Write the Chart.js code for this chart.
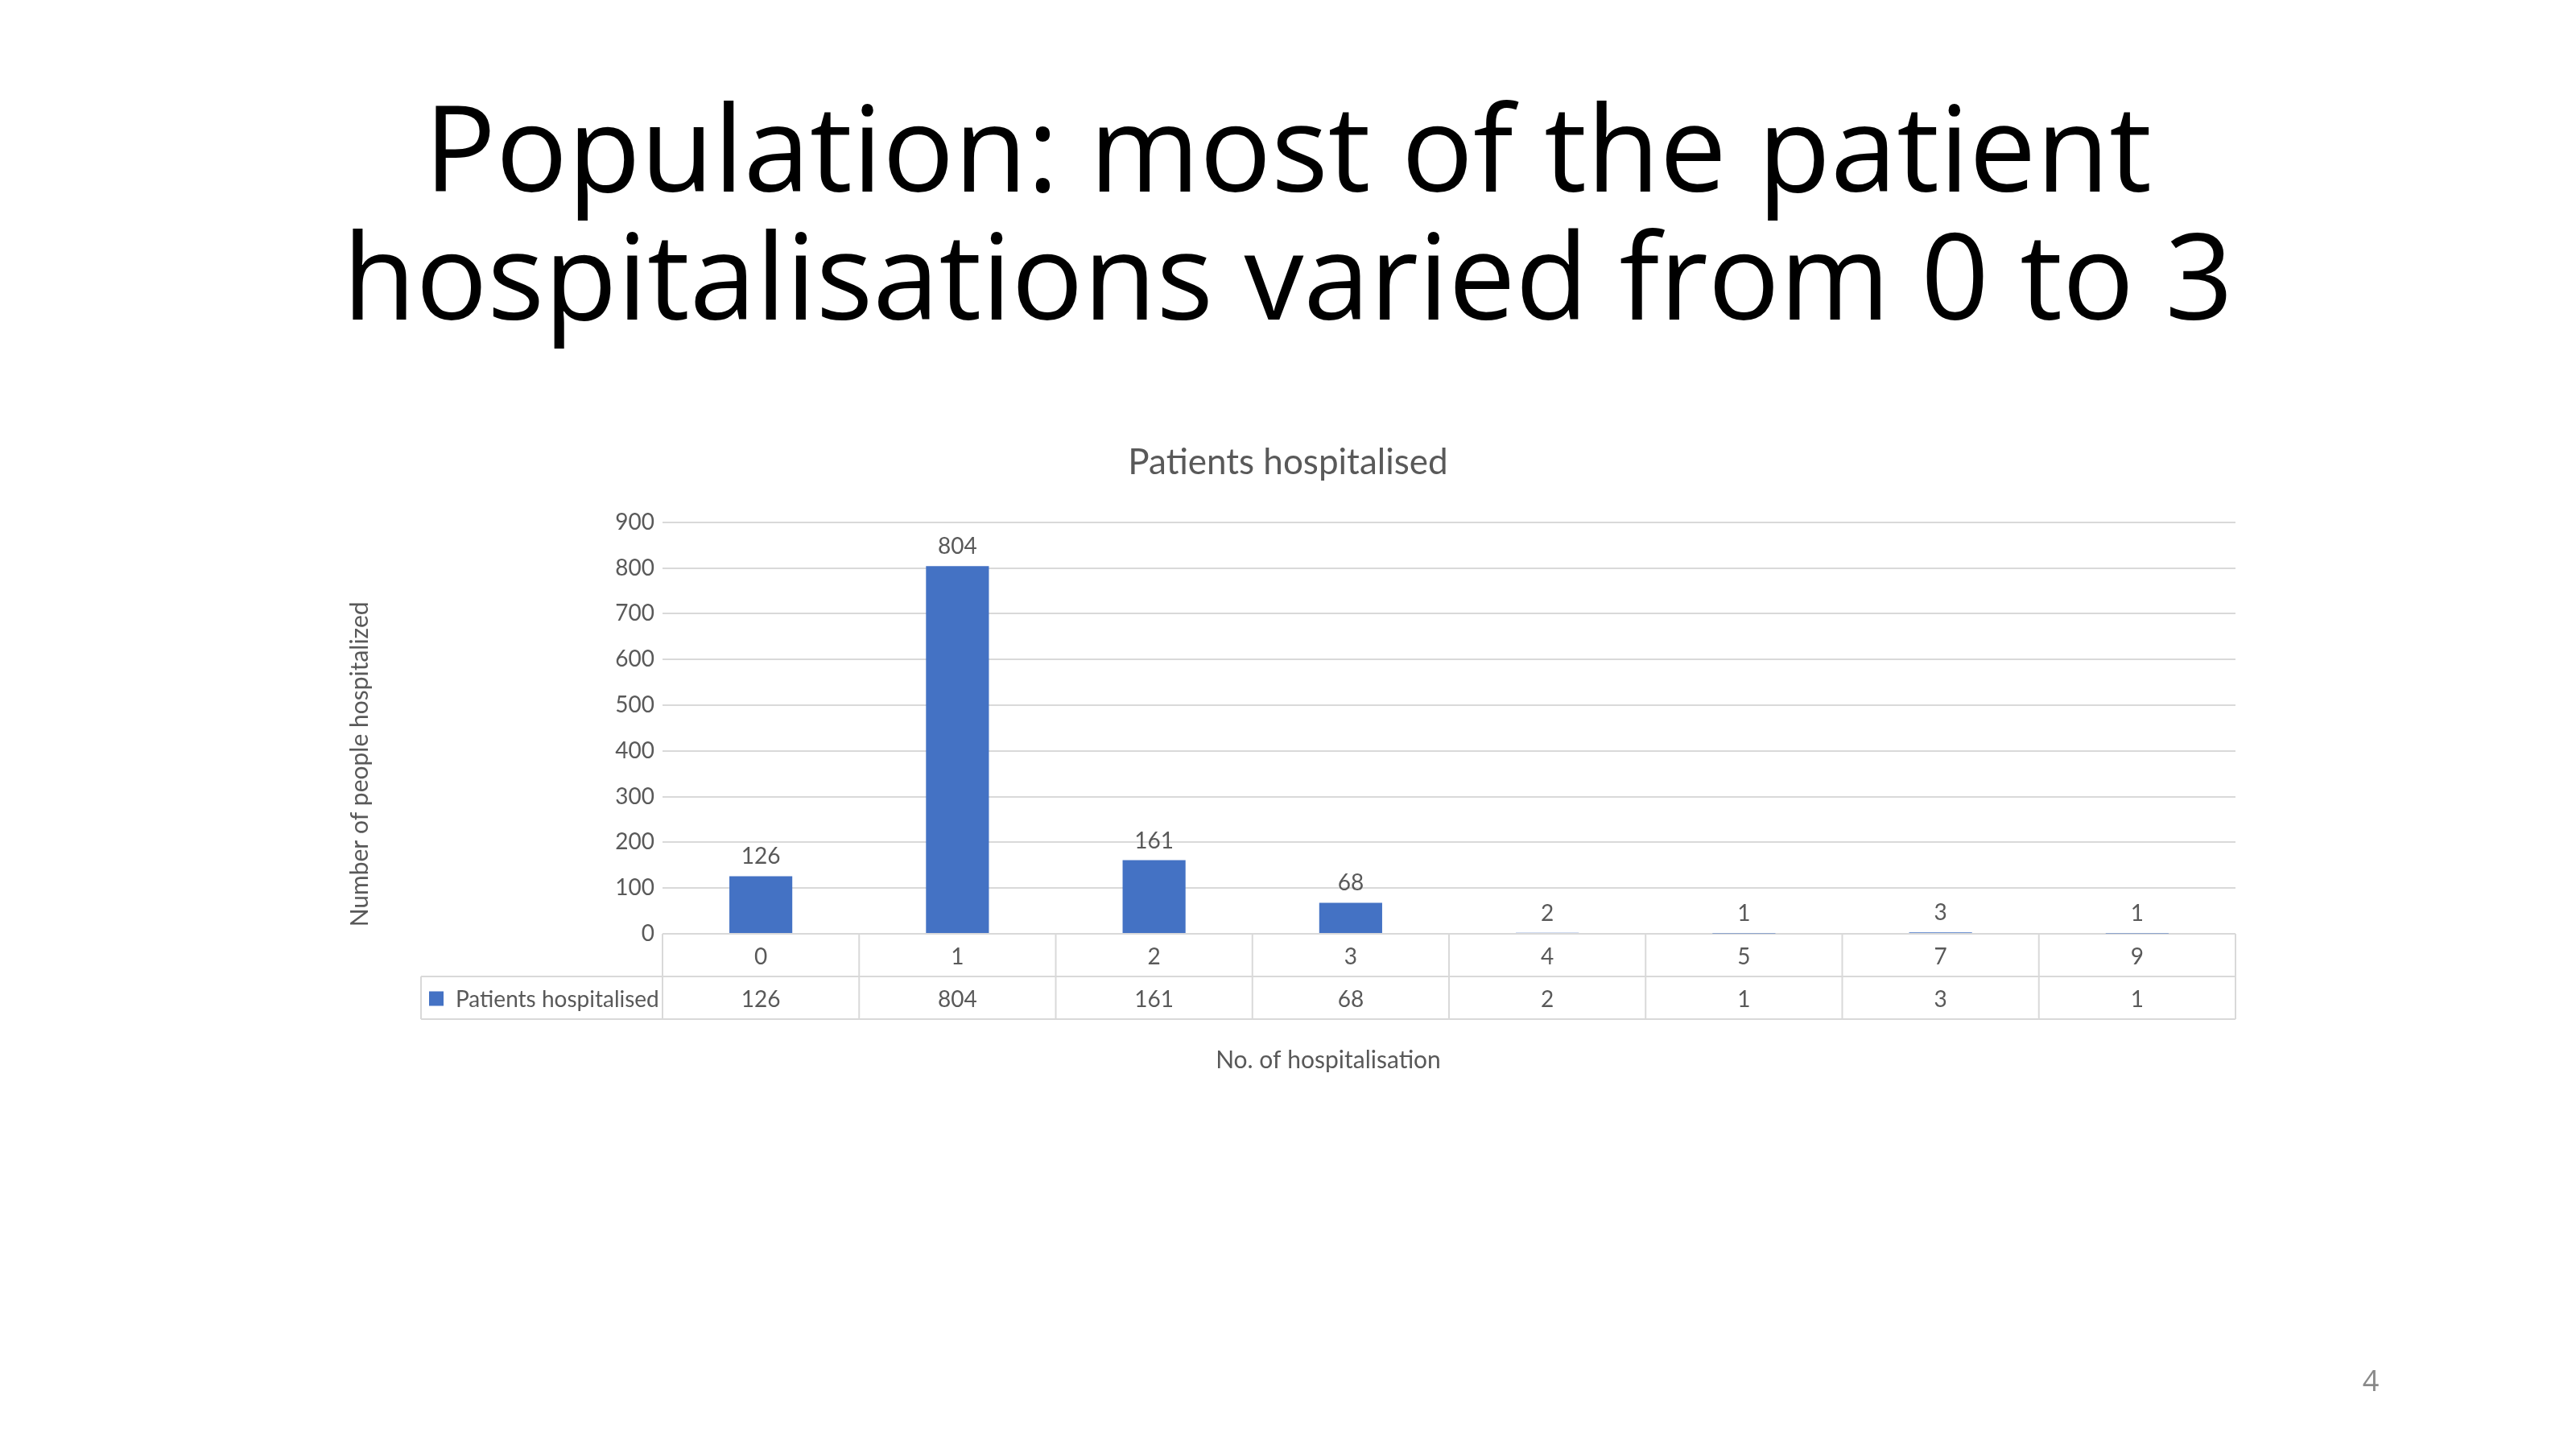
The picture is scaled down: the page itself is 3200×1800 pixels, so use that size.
<!DOCTYPE html>
<html lang="en">
<head>
<meta charset="utf-8">
<title>Population: most of the patient hospitalisations varied from 0 to 3</title>
<script src="https://cdn.jsdelivr.net/npm/chart.js@4.4.0/dist/chart.umd.min.js"></script>
<style>
  html, body { margin: 0; padding: 0; background: #fff; }
  body { width: 3200px; height: 1800px; position: relative; overflow: hidden; }
  #nadpis {
    position: absolute; left: 0; top: 101px; width: 3200px;
    font-family: "Open Sans", sans-serif; font-size: 148px; line-height: 159px;
    text-align: center; color: #000; margin: 0; font-weight: 400;
  }
  #cislo-stranky {
    position: absolute; left: 2920px; top: 1690px; width: 50px;
    font-family: "Open Sans", sans-serif; font-size: 36px; color: #898989; text-align: center;
  }
  #graf { position: absolute; left: 0; top: 0; }
</style>
</head>
<body>
<canvas id="graf" width="3200" height="1800" style="width:3200px;height:1800px"></canvas>
<h1 id="nadpis">Population: most of the patient<br>hospitalisations varied from 0 to 3</h1>
<div id="cislo-stranky">4</div>
<script>
// --- DATA ---
const kategorie = ['0', '1', '2', '3', '4', '5', '7', '9'];
const pocetPacientu = [126, 804, 161, 68, 2, 1, 3, 1];
const nazevRady = 'Patients hospitalised';
const nazevGrafu = 'Patients hospitalised';
const popisekOsyX = 'No. of hospitalisation';
const popisekOsyY = 'Number of people hospitalized';
const osaYMax = 900;
const osaYKrok = 100;

// --- STYLY ---
const barvaSloupce = '#4472C4';
const barvaTextu = '#595959';
const barvaMrizky = '#d9d9d9';
const pismo = 'Lato';

// --- TABULKA DAT, POPISKY A NAZVY OS (vlastni plugin) ---
const tabulkaPlugin = {
  id: 'tabulka',
  afterDatasetsDraw(chart) {
    const { ctx } = chart;
    const meta = chart.getDatasetMeta(0);
    ctx.save();
    ctx.font = `28px ${pismo}`;
    ctx.fillStyle = barvaTextu;
    ctx.textAlign = 'center';
    ctx.textBaseline = 'alphabetic';
    meta.data.forEach((sloupec, i) => {
      ctx.fillText(String(pocetPacientu[i]), sloupec.x, sloupec.y - 15);
    });
    ctx.restore();
  },
  afterDraw(chart) {
    const { ctx, chartArea, scales: { x } } = chart;
    const sirka = x.getPixelForValue(1) - x.getPixelForValue(0);
    const horni = chartArea.bottom;
    const radek = 53;
    const levyOkraj = 523;
    const prava = chartArea.right;

    ctx.save();
    ctx.strokeStyle = barvaMrizky;
    ctx.lineWidth = 2;
    ctx.beginPath();
    // vodorovne cary
    ctx.moveTo(levyOkraj, horni + radek); ctx.lineTo(prava, horni + radek);
    ctx.moveTo(levyOkraj, horni + 2 * radek); ctx.lineTo(prava, horni + 2 * radek);
    // svisle cary mezi sloupci
    kategorie.forEach((k, i) => {
      const xx = x.getPixelForValue(i) - sirka / 2;
      ctx.moveTo(xx, horni); ctx.lineTo(xx, horni + 2 * radek);
    });
    ctx.moveTo(prava, horni); ctx.lineTo(prava, horni + 2 * radek);
    ctx.moveTo(levyOkraj, horni + radek); ctx.lineTo(levyOkraj, horni + 2 * radek);
    ctx.stroke();

    // radek s hodnotami
    ctx.font = `28px ${pismo}`;
    ctx.fillStyle = barvaTextu;
    ctx.textAlign = 'center';
    ctx.textBaseline = 'middle';
    const stredRadku = horni + radek * 1.5 + 2;
    pocetPacientu.forEach((v, i) => {
      ctx.fillText(String(v), x.getPixelForValue(i), stredRadku);
    });

    // legenda v tabulce
    ctx.fillStyle = barvaSloupce;
    ctx.fillRect(533, stredRadku - 10, 18, 18);
    ctx.fillStyle = barvaTextu;
    ctx.textAlign = 'left';
    ctx.fillText(nazevRady, 566, stredRadku);

    // nazvy os
    ctx.font = `30px ${pismo}`;
    ctx.textAlign = 'center';
    ctx.fillText(popisekOsyX, (levyOkraj + prava) / 2, horni + 2 * radek + 51);
    ctx.translate(447, (chartArea.top + horni + 2 * radek) / 2 - 8);
    ctx.rotate(-Math.PI / 2);
    ctx.fillText(popisekOsyY, 0, 0);
    ctx.restore();
  }
};

// --- GRAF ---
const mujGraf = new Chart(document.getElementById('graf'), {
  type: 'bar',
  data: {
    labels: kategorie,
    datasets: [{
      label: nazevRady,
      data: pocetPacientu,
      backgroundColor: barvaSloupce,
      borderWidth: 0,
      barPercentage: 0.32,
      categoryPercentage: 1
    }]
  },
  options: {
    responsive: false,
    animation: false,
    devicePixelRatio: 1,
    layout: { padding: { top: 548, left: 423, right: 423, bottom: 534 } },
    plugins: {
      legend: { display: false },
      tooltip: { enabled: false },
      title: {
        display: true,
        text: nazevGrafu,
        color: barvaTextu,
        font: { family: pismo, size: 44, weight: 'normal', lineHeight: 1.2 },
        padding: { top: 0, bottom: 48 }
      }
    },
    scales: {
      x: {
        grid: { display: false },
        border: { display: false },
        ticks: { color: barvaTextu, font: { family: pismo, size: 28 }, padding: 4, maxRotation: 0 },
        afterFit(scale) { scale.height = 106; }
      },
      y: {
        min: 0,
        max: osaYMax,
        grid: { color: barvaMrizky, lineWidth: 2, drawTicks: false },
        border: { display: false },
        ticks: { stepSize: osaYKrok, color: barvaTextu, font: { family: pismo, size: 28 }, padding: 10 },
        afterFit(scale) { scale.width = 400; }
      }
    }
  },
  plugins: [tabulkaPlugin]
});
</script>
</body>
</html>
